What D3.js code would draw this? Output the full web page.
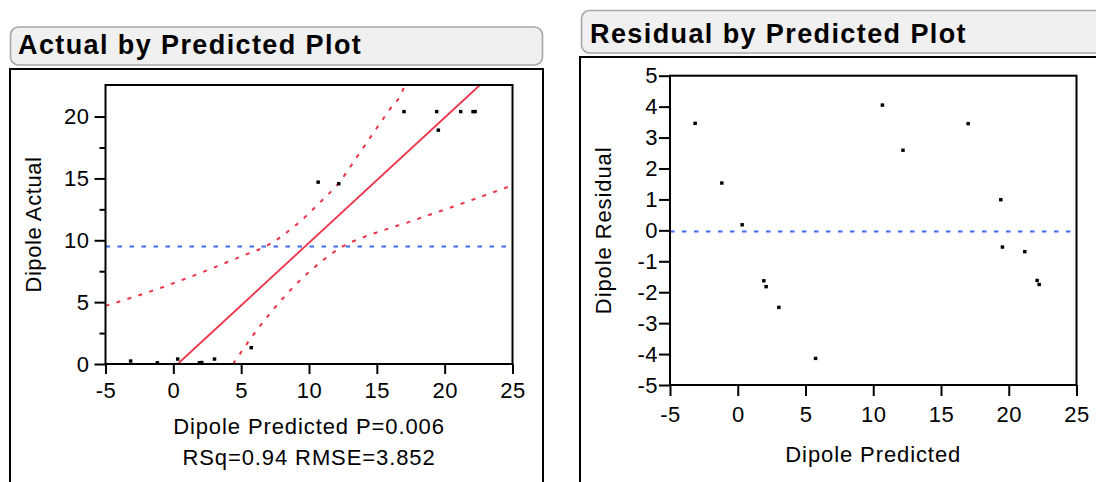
<!DOCTYPE html>
<html><head><meta charset="utf-8">
<script src="https://cdn.jsdelivr.net/npm/d3@7"></script>
<style>
body{margin:0;background:#fff;}
svg text{font-family:Arial,"Liberation Sans",sans-serif;fill:#000;}
</style>
</head><body>
<svg id="c" width="1096" height="482"></svg>
<script>
// ---- data ----
const predicted = [-3.15,-1.18,0.32,1.92,2.09,3.03,5.74,10.67,12.19,17.0,19.41,19.53,21.18,22.09,22.24];
const actual    = [0.24,0.10,0.40,0.10,0.12,0.40,1.32,14.70,14.57,20.40,20.40,18.90,20.40,20.40,20.40];
const residual  = [3.46,1.53,0.18,-1.63,-1.82,-2.49,-4.14,4.05,2.59,3.45,0.99,-0.54,-0.69,-1.62,-1.75];
const actualMean = 9.5;
const residualMean = -0.04;
const fitLine = [[0.32,0],[22.6,22.55]];
const upperBand = [[-5,4.7],[-1.38,5.98],[1.94,7.33],[5.21,8.79],[6.86,9.54],[8.34,10.62],[9.69,11.86],[10.92,13.18],[12.1,14.5],[13.55,16.76],[14.98,19.05],[15.96,20.59],[16.94,22.2],[17.05,22.55]];
const lowerBand = [[4.40,0],[5.80,2.21],[7.40,4.45],[9.12,6.52],[11.12,8.46],[12.44,9.48],[14.12,10.29],[15.84,10.94],[17.68,11.59],[18.42,11.88],[21.87,13.2],[25,14.45]];
const xTicks = [-5,0,5,10,15,20,25];
const yTicksLeft = [0,5,10,15,20];
const yMinorLeft = [2.5,7.5,12.5,17.5];
const yTicksRight = [-5,-4,-3,-2,-1,0,1,2,3,4,5];
const titles = ["Actual by Predicted Plot","Residual by Predicted Plot"];

const RED = "#ec3347", BLUE = "#3a6df2";
const svg = d3.select("#c");
const FS = 22, LS = "0.9px";
const fmt = d => String(d);

// ---- panel frames ----
function titleBox(x, y, w, h, label, tx, ty){
  svg.append("rect").attr("x",x).attr("y",y).attr("width",w).attr("height",h)
    .attr("rx",8).attr("ry",8).attr("fill","#f0f0f0").attr("stroke","#a6a6a6").attr("stroke-width",1.6);
  svg.append("text").attr("x",tx).attr("y",ty).attr("font-size",27).attr("font-weight","bold")
    .attr("letter-spacing","1.4px").text(label);
}
titleBox(10.5, 27, 532, 38, titles[0], 18, 53.5);
titleBox(581.5, 10.5, 540, 42.5, titles[1], 590, 42.5);
svg.append("rect").attr("x",10).attr("y",69).attr("width",533).attr("height",440)
  .attr("fill","none").attr("stroke","#000").attr("stroke-width",2);
svg.append("rect").attr("x",580).attr("y",57).attr("width",540).attr("height",440)
  .attr("fill","none").attr("stroke","#000").attr("stroke-width",2);

// ---- left plot ----
const L = {x0:105.5, x1:512.5, y0:85, y1:364};
const xL = d3.scaleLinear().domain([-5,25]).range([L.x0,L.x1]);
const yL = d3.scaleLinear().domain([0,22.55]).range([L.y1,L.y0]);
const gL = svg.append("g");
gL.append("clipPath").attr("id","clipL").append("rect")
  .attr("x",L.x0).attr("y",L.y0).attr("width",L.x1-L.x0).attr("height",L.y1-L.y0);

gL.append("g").attr("transform",`translate(0,${L.y1})`)
  .call(d3.axisBottom(xL).tickValues(xTicks).tickSize(10).tickPadding(8).tickFormat(fmt));
gL.append("g").attr("transform",`translate(${L.x0},0)`)
  .call(d3.axisLeft(yL).tickValues(yTicksLeft).tickSize(11).tickPadding(5).tickFormat(fmt));
gL.append("g").attr("transform",`translate(${L.x0},0)`)
  .call(d3.axisLeft(yL).tickValues(yMinorLeft).tickSize(6).tickFormat(""));

const plotL = gL.append("g").attr("clip-path","url(#clipL)");
plotL.append("line").attr("x1",L.x0).attr("x2",L.x1).attr("y1",yL(actualMean)).attr("y2",yL(actualMean))
  .attr("stroke",BLUE).attr("stroke-width",2).attr("stroke-dasharray","4.5,7.5");
const lineGen = d3.line().x(d=>xL(d[0])).y(d=>yL(d[1])).curve(d3.curveMonotoneX);
[upperBand, lowerBand].forEach(b=>{
  plotL.append("path").attr("d",lineGen(b)).attr("fill","none").attr("stroke",RED)
    .attr("stroke-width",2).attr("stroke-dasharray","4,7.5");
});
plotL.append("path").attr("d",d3.line().x(d=>xL(d[0])).y(d=>yL(d[1]))(fitLine))
  .attr("fill","none").attr("stroke",RED).attr("stroke-width",1.8);
plotL.selectAll("rect.pt").data(predicted.map((p,i)=>[p,actual[i]])).join("rect").attr("class","pt")
  .attr("x",d=>xL(d[0])-1.7).attr("y",d=>yL(d[1])-1.7).attr("width",3.5).attr("height",3.4).attr("fill","#000");

gL.append("rect").attr("x",L.x0).attr("y",L.y0).attr("width",L.x1-L.x0).attr("height",L.y1-L.y0)
  .attr("fill","none").attr("stroke","#000").attr("stroke-width",2);

gL.append("text").attr("x",(L.x0+L.x1)/2).attr("y",434).attr("text-anchor","middle")
  .attr("font-size",FS).attr("letter-spacing",LS).text("Dipole Predicted P=0.006");
gL.append("text").attr("x",(L.x0+L.x1)/2).attr("y",465).attr("text-anchor","middle")
  .attr("font-size",FS).attr("letter-spacing",LS).text("RSq=0.94 RMSE=3.852");
gL.append("text").attr("transform",`translate(41,${(L.y0+L.y1)/2}) rotate(-90)`).attr("text-anchor","middle")
  .attr("font-size",FS).attr("letter-spacing","0.6px").text("Dipole Actual");

// ---- right plot ----
const R = {x0:670, x1:1076.5, y0:75.7, y1:385};
const xR = d3.scaleLinear().domain([-5,25]).range([R.x0,R.x1]);
const yR = d3.scaleLinear().domain([-5,5]).range([R.y1,R.y0]);
const gR = svg.append("g");
gR.append("g").attr("transform",`translate(0,${R.y1})`)
  .call(d3.axisBottom(xR).tickValues(xTicks).tickSize(11).tickPadding(10).tickFormat(fmt));
gR.append("g").attr("transform",`translate(${R.x0},0)`)
  .call(d3.axisLeft(yR).tickValues(yTicksRight).tickSize(11).tickPadding(1).tickFormat(fmt));
gR.append("line").attr("x1",R.x0).attr("x2",R.x1).attr("y1",yR(residualMean)).attr("y2",yR(residualMean))
  .attr("stroke",BLUE).attr("stroke-width",2).attr("stroke-dasharray","4.5,7.5");
gR.selectAll("rect.pt").data(predicted.map((p,i)=>[p,residual[i]])).join("rect").attr("class","pt")
  .attr("x",d=>xR(d[0])-1.7).attr("y",d=>yR(d[1])-1.7).attr("width",3.5).attr("height",3.4).attr("fill","#000");
gR.append("rect").attr("x",R.x0).attr("y",R.y0).attr("width",R.x1-R.x0).attr("height",R.y1-R.y0)
  .attr("fill","none").attr("stroke","#000").attr("stroke-width",2);
gR.append("text").attr("x",(R.x0+R.x1)/2).attr("y",462).attr("text-anchor","middle")
  .attr("font-size",FS).attr("letter-spacing",LS).text("Dipole Predicted");
gR.append("text").attr("transform",`translate(611,${(R.y0+R.y1)/2}) rotate(-90)`).attr("text-anchor","middle")
  .attr("font-size",FS).attr("letter-spacing",LS).text("Dipole Residual");

// axis styling
svg.selectAll(".domain").remove();
svg.selectAll(".tick line").attr("stroke","#000").attr("stroke-width",2);
svg.selectAll(".tick text").attr("font-size",FS).attr("letter-spacing","0.5px")
  .attr("font-family","Arial, 'Liberation Sans', sans-serif").attr("fill","#000");
</script>
</body></html>
